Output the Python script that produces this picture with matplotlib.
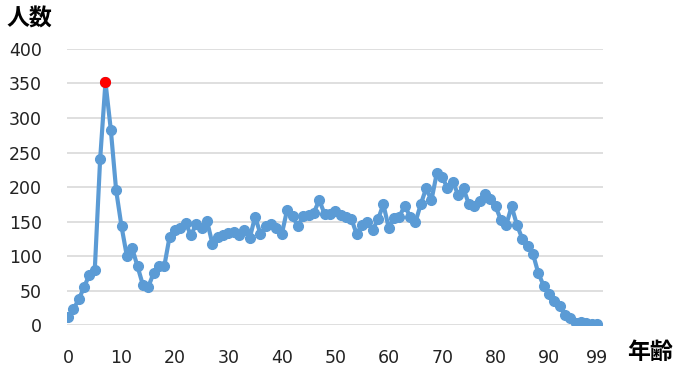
import matplotlib
matplotlib.use("Agg")
import matplotlib.pyplot as plt

ages = list(range(100))
counts = [
    12, 23, 37, 55, 73, 80, 240, 352, 283, 195,
    143, 100, 111, 85, 58, 55, 75, 85, 85, 128,
    137, 140, 148, 130, 147, 141, 151, 118, 128, 130,
    133, 135, 130, 138, 126, 157, 132, 143, 147, 140,
    132, 167, 158, 143, 158, 160, 163, 181, 161, 161,
    165, 160, 157, 154, 132, 145, 150, 138, 153, 175,
    141, 155, 157, 173, 157, 149, 175, 198, 181, 220,
    215, 198, 207, 189, 198, 175, 172, 180, 190, 183,
    172, 152, 145, 172, 145, 125, 115, 103, 75, 57,
    45, 35, 27, 15, 10, 3, 5, 3, 2, 1,
]
xticks = [0, 10, 20, 30, 40, 50, 60, 70, 80, 90, 99]
yticks = [0, 50, 100, 150, 200, 250, 300, 350, 400]

line_color = "#5B9BD5"
cjk = ["Noto Sans CJK JP", "DejaVu Sans"]

fig = plt.figure(figsize=(6.76, 3.67), dpi=100)
ax = fig.add_axes([0.0991, 0.1144, 0.7929, 0.7521])

ax.plot(ages, counts, color=line_color, linewidth=3, marker="o",
        markersize=7, markerfacecolor=line_color, markeredgecolor=line_color,
        solid_capstyle="round", zorder=3)

peak = counts.index(max(counts))
ax.plot([ages[peak]], [counts[peak]], "o", color="#FF0000", markersize=7, zorder=4)

ax.set_xlim(-0.2, 100.1)
ax.set_ylim(0, 400)
ax.set_xticks(xticks)
ax.set_yticks(yticks)
ax.grid(axis="y", color="#D9D9D9", linewidth=1.2)
ax.set_axisbelow(True)
for s in ax.spines.values():
    s.set_visible(False)
ax.tick_params(length=0, labelsize=12.5, colors="#222222")
ax.tick_params(axis="x", pad=17)
ax.tick_params(axis="y", pad=18)
for lbl in ax.get_xticklabels() + ax.get_yticklabels():
    lbl.set_fontfamily("DejaVu Sans")

fig.text(0.01, 0.948, "人数", fontsize=16.5, fontweight="bold",
         family=cjk, ha="left", va="center")
fig.text(0.928, 0.04, "年齢", fontsize=16.5, fontweight="bold",
         family=cjk, ha="left", va="center")

fig.savefig("out.png", dpi=100)
